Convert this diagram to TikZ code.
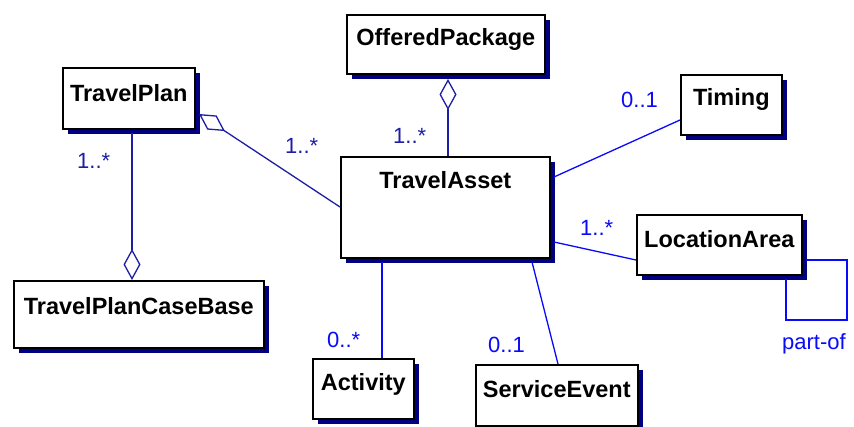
\documentclass[tikz,border=0pt]{standalone}
\usepackage{fontspec}
\setmainfont{Liberation Sans}
\usetikzlibrary{arrows.meta,shadows}
\definecolor{navyc}{RGB}{0,0,128}
\definecolor{dblue}{RGB}{30,30,165}
\definecolor{bblue}{RGB}{10,10,250}
\tikzset{
  cls/.style={draw=black, line width=1.6pt, fill=white, anchor=north west, inner sep=0pt,
    drop shadow={shadow xshift=5pt, shadow yshift=-5pt, fill=navyc, opacity=1}},
  ttl/.style={anchor=base, inner sep=0pt, font=\bfseries\fontsize{23.5}{26}\selectfont},
  mult/.style={anchor=base west, inner sep=0pt, font=\fontsize{22}{24}\selectfont},
  conn/.style={line width=1.3pt},
  agg/.style={conn, -{Diamond[fill=white, length=31pt, width=17pt, line width=1.3pt]}}
}
\begin{document}
\begin{tikzpicture}[x=1pt, y=-1pt]
\useasboundingbox[fill=white] (0,0) rectangle (854,426);
% boxes
\node[cls, minimum width=132pt, minimum height=61pt] (tp) at (62,67) {};
\node[cls, minimum width=250pt, minimum height=67pt] (cb) at (13,280) {};
\node[cls, minimum width=198pt, minimum height=59pt] (op) at (346,14) {};
\node[cls, minimum width=209pt, minimum height=101pt] (ta) at (340,156) {};
\node[cls, minimum width=101pt, minimum height=60pt] (tm) at (680,74) {};
\node[cls, minimum width=165pt, minimum height=60pt] (la) at (636,214) {};
\node[cls, minimum width=101pt, minimum height=60pt] (ac) at (312,358) {};
\node[cls, minimum width=162pt, minimum height=61pt] (se) at (475,364) {};
% titles
\node[ttl] (tpt) at ([yshift=-34pt]tp.north) {TravelPlan};
\node[ttl] (cbt) at ([yshift=-34pt]cb.north) {TravelPlanCaseBase};
\node[ttl] (opt) at ([yshift=-31pt]op.north) {OfferedPackage};
\node[ttl] (tat) at ([yshift=-32pt]ta.north) {TravelAsset};
\node[ttl] (tmt) at ([yshift=-31pt]tm.north) {Timing};
\node[ttl] (lat) at ([yshift=-33pt]la.north) {LocationArea};
\node[ttl] (act) at ([yshift=-32pt]ac.north) {Activity};
\node[ttl] (set) at ([yshift=-33pt]se.north) {ServiceEvent};
% connector end points
\coordinate (tpd) at (199,114);
\coordinate (tal) at (340,207);
\coordinate (cbd) at (132,280);
\coordinate (tpb) at (132,133);
\coordinate (opd) at (448,79);
\coordinate (tat1) at (448,156);
\coordinate (tmw) at (680,120);
\coordinate (tar1) at (554,177);
\coordinate (law) at (636,260);
\coordinate (tar2) at (554,242);
\coordinate (tab1) at (382,262);
\coordinate (acn) at (382,358);
\coordinate (tab2) at (532,262);
\coordinate (sen) at (558,364);
\coordinate (p1) at (806,260);
\coordinate (p2) at (847,260);
\coordinate (p3) at (847,320);
\coordinate (p4) at (786,320);
\coordinate (p5) at (786,279);
% connectors
\draw[agg, dblue] (tal) -- (tpd);
\draw[agg, dblue] (tpb) -- (cbd);
\draw[agg, dblue] (tat1) -- (opd);
\draw[conn, bblue] (tmw) -- (tar1);
\draw[conn, bblue] (law) -- (tar2);
\draw[conn, bblue] (tab1) -- (acn);
\draw[conn, bblue] (tab2) -- (sen);
\draw[conn, bblue] (p1) -- (p2) -- (p3) -- (p4) -- (p5);
% multiplicities
\node[mult, dblue] (m1) at (285,153) {1..*};
\node[mult, dblue] (m2) at (77,168) {1..*};
\node[mult, dblue] (m3) at (393,143) {1..*};
\node[mult, bblue] (m4) at (621,107) {0..1};
\node[mult, bblue] (m5) at (580,235) {1..*};
\node[mult, bblue] (m6) at (327,347) {0..*};
\node[mult, bblue] (m7) at (488,352) {0..1};
\node[mult, bblue] (m8) at (782,349) {part-of};
\end{tikzpicture}
\end{document}
